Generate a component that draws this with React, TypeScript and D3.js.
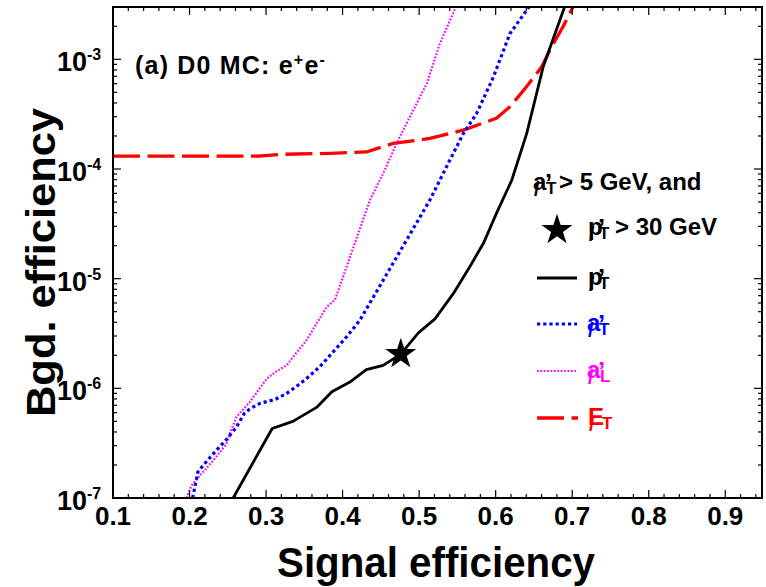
import React from 'react';
import * as d3 from 'd3';

// ---------- data ----------
const xTickValues = [0.1, 0.2, 0.3, 0.4, 0.5, 0.6, 0.7, 0.8, 0.9];
const yDecades = [-7, -6, -5, -4, -3];

// pT' (black solid)
const ptSig = [0.257, 0.308, 0.335, 0.366, 0.386, 0.4095, 0.431, 0.453, 0.476, 0.499, 0.5207, 0.5446, 0.566, 0.584, 0.601, 0.621, 0.6405, 0.662, 0.69];
const ptBgd = [1.0e-7, 4.3e-7, 5.0e-7, 6.7e-7, 9.3e-7, 1.14e-6, 1.48e-6, 1.62e-6, 2.05e-6, 3.2e-6, 4.3e-6, 7.3e-6, 1.28e-5, 2.1e-5, 3.94e-5, 7.9e-5, 2.1e-4, 8.5e-4, 3.0e-3];

// aT' (blue dotted)
const atSig = [0.204, 0.211, 0.218, 0.235, 0.248, 0.261, 0.272, 0.2788, 0.292, 0.3115, 0.3268, 0.34, 0.353, 0.37, 0.3877, 0.405, 0.4226, 0.438, 0.514, 0.54, 0.5577, 0.575, 0.597, 0.6187, 0.6436];
const atBgd = [1.0e-7, 1.73e-7, 1.99e-7, 2.72e-7, 3.4e-7, 4.4e-7, 5.97e-7, 6.5e-7, 7.3e-7, 7.9e-7, 8.97e-7, 1.045e-6, 1.23e-6, 1.57e-6, 2.15e-6, 2.94e-6, 4.18e-6, 6.4e-6, 5.2e-5, 1.2e-4, 2.1e-4, 3.2e-4, 6.9e-4, 1.72e-3, 3.0e-3];

// aL' (magenta dotted)
const alSig = [0.196, 0.2026, 0.2135, 0.231, 0.248, 0.2527, 0.2614, 0.2788, 0.3007, 0.3137, 0.3268, 0.3355, 0.353, 0.366, 0.379, 0.39, 0.4357, 0.453, 0.4706, 0.488, 0.51, 0.527, 0.548];
const alBgd = [1.0e-7, 1.3e-7, 1.6e-7, 2.2e-7, 3.1e-7, 3.87e-7, 5.5e-7, 7.5e-7, 1.22e-6, 1.43e-6, 1.62e-6, 1.94e-6, 2.75e-6, 3.9e-6, 5.5e-6, 6.4e-6, 5.2e-5, 9.1e-5, 1.71e-4, 3.0e-4, 6.0e-4, 1.39e-3, 3.0e-3];

// MET (red dashed)
const metSig = [0.1, 0.29, 0.32, 0.384, 0.431, 0.466, 0.514, 0.5577, 0.601, 0.6187, 0.64, 0.66, 0.673, 0.688, 0.701];
const metBgd = [1.31e-4, 1.31e-4, 1.36e-4, 1.39e-4, 1.43e-4, 1.71e-4, 1.9e-4, 2.26e-4, 2.9e-4, 3.7e-4, 5.6e-4, 8.5e-4, 1.3e-3, 1.98e-3, 3.0e-3];

// working point (star)
const starSig = [0.476];
const starBgd = [2.05e-6];

// ---------- layout ----------
const W = 766, H = 587;
const L = 113, R = 762, T = 7, B = 498;
const FONT = '"Liberation Sans", Arial, Helvetica, sans-serif';

const x = d3.scaleLinear().domain([0.1, 0.948]).range([L, R]);
const y = d3.scaleLog().domain([1e-7, 3e-3]).range([B, T]);

const zip = (xs: number[], ys: number[]) => xs.map((v, i) => [v, ys[i]] as [number, number]);
const line = d3.line<[number, number]>().x(d => x(d[0])).y(d => y(d[1]));

const xMinor = d3.range(0.1, 0.9481, 0.02).map(v => +v.toFixed(3));
const yMinor: number[] = [];
for (let e = -7; e <= -3; e++) for (let m = 1; m <= 9; m++) {
  const v = m * Math.pow(10, e);
  if (v <= 3e-3 + 1e-12) yMinor.push(v);
}

function SlashLabel(props: {x0: number; y0: number; base: string; sub: string; subDx: number; prime: boolean; primeDx: number; color: string; rest?: string; restX?: number}) {
  const {x0, y0, base, sub, subDx, prime, primeDx, color, rest, restX} = props;
  return (
    <text fill={color} fontFamily={FONT} fontWeight="bold" fontSize={24}>
      <tspan x={x0} y={y0}>{base}</tspan>
      <tspan x={x0 + 1} y={y0 + 6} fontSize={20}>/</tspan>
      <tspan x={x0 + subDx} y={y0 + 4} fontSize={17}>{sub}</tspan>
      {prime ? <tspan x={x0 + primeDx} y={y0 + 2} fontSize={26}>’</tspan> : null}
      {rest ? <tspan x={restX} y={y0}>{rest}</tspan> : null}
    </text>
  );
}

export default function App() {
  const star = d3.symbol().type(d3.symbolStar).size(300)();
  const series = [
    {d: zip(metSig, metBgd), color: '#ff0000', w: 3.3, dash: '27,7.5'},
    {d: zip(alSig, alBgd), color: '#ff00ff', w: 2.2, dash: '1.7,1.7'},
    {d: zip(atSig, atBgd), color: '#0000ff', w: 3.2, dash: '3.2,3'},
    {d: zip(ptSig, ptBgd), color: '#000000', w: 2.8, dash: 'none'},
  ];
  return (
    <svg width={W} height={H} style={{position: 'absolute', left: 0, top: 0, background: '#fff'}} fontFamily={FONT}>
      <defs>
        <clipPath id="plotclip"><rect x={L} y={T} width={R - L} height={B - T} /></clipPath>
      </defs>
      <rect x={0} y={0} width={W} height={H} fill="#fff" />

      {/* curves */}
      <g clipPath="url(#plotclip)">
        {series.map((s, i) => (
          <path key={i} d={line(s.d) || ''} fill="none" stroke={s.color} strokeWidth={s.w} strokeDasharray={s.dash} strokeLinejoin="round" />
        ))}
      </g>
      {zip(starSig, starBgd).map((p, i) => (
        <path key={i} d={star || ''} transform={`translate(${x(p[0])},${y(p[1])})`} fill="#000" />
      ))}

      {/* ticks */}
      <g stroke="#000" strokeWidth={1.2}>
        {xMinor.map((v, i) => {
          const major = Math.abs(v * 10 - Math.round(v * 10)) < 1e-6;
          const len = major ? 8 : 4;
          return (
            <g key={i}>
              <line x1={x(v)} x2={x(v)} y1={B} y2={B - len} />
              <line x1={x(v)} x2={x(v)} y1={T} y2={T + len} />
            </g>
          );
        })}
        {yMinor.map((v, i) => {
          const major = Math.abs(Math.log10(v) - Math.round(Math.log10(v))) < 1e-6;
          const len = major ? 8 : 4;
          return (
            <g key={i}>
              <line x1={L} x2={L + len} y1={y(v)} y2={y(v)} />
              <line x1={R} x2={R - len} y1={y(v)} y2={y(v)} />
            </g>
          );
        })}
      </g>

      {/* frame */}
      <rect x={L} y={T} width={R - L} height={B - T} fill="none" stroke="#000" strokeWidth={2} />

      {/* x tick labels */}
      {xTickValues.map(v => (
        <text key={v} x={x(v)} y={B + 27} textAnchor="middle" fontSize={26} fontWeight="bold" fill="#000">{v.toFixed(1)}</text>
      ))}
      {/* y tick labels */}
      {yDecades.map(e => (
        <text key={e} fontWeight="bold" fill="#000">
          <tspan x={87} y={y(Math.pow(10, e)) + 12} textAnchor="end" fontSize={27}>10</tspan>
          <tspan x={87} y={y(Math.pow(10, e)) + 1} fontSize={16}>{`-${-e}`}</tspan>
        </text>
      ))}

      {/* axis titles */}
      <text x={436} y={577} textAnchor="middle" fontSize={42} fontWeight="bold" textLength={318} lengthAdjust="spacingAndGlyphs">Signal efficiency</text>
      <text transform="translate(55,262.5) rotate(-90)" textAnchor="middle" fontSize={41} fontWeight="bold" textLength={309} lengthAdjust="spacingAndGlyphs">Bgd. efficiency</text>

      {/* panel title */}
      <text x={135} y={74} fontSize={25} fontWeight="bold" fill="#000" letterSpacing={1.2}>
        (a) D0 MC: e<tspan dy={-9} fontSize={16}>+</tspan><tspan dy={9}>e</tspan><tspan dy={-9} fontSize={16}>-</tspan>
      </text>

      {/* legend */}
      <SlashLabel x0={533} y0={190} base="a" sub="T" subDx={13} prime primeDx={12} color="#000" rest="> 5 GeV, and" restX={559} />
      <path d={star || ''} transform="translate(557,230)" fill="#000" />
      <SlashLabel x0={588} y0={235} base="p" sub="T" subDx={11} prime primeDx={10} color="#000" rest="> 30 GeV" restX={615} />

      <line x1={537} x2={577} y1={278} y2={278} stroke="#000" strokeWidth={2.8} />
      <SlashLabel x0={588} y0={285} base="p" sub="T" subDx={11} prime primeDx={10} color="#000" />

      <line x1={537} x2={577} y1={324} y2={324} stroke="#0000ff" strokeWidth={3.2} strokeDasharray="3.2,3" />
      <SlashLabel x0={587} y0={331} base="a" sub="T" subDx={12} prime primeDx={11} color="#0000ff" />

      <line x1={537} x2={577} y1={371} y2={371} stroke="#ff00ff" strokeWidth={2.2} strokeDasharray="1.7,1.7" />
      <SlashLabel x0={587} y0={378} base="a" sub="L" subDx={13} prime primeDx={11} color="#ff00ff" />

      <line x1={537} x2={578} y1={418} y2={418} stroke="#ff0000" strokeWidth={3.3} strokeDasharray="27,7.5" />
      <SlashLabel x0={588} y0={425} base="E" sub="T" subDx={14} prime={false} primeDx={0} color="#ff0000" />
    </svg>
  );
}
